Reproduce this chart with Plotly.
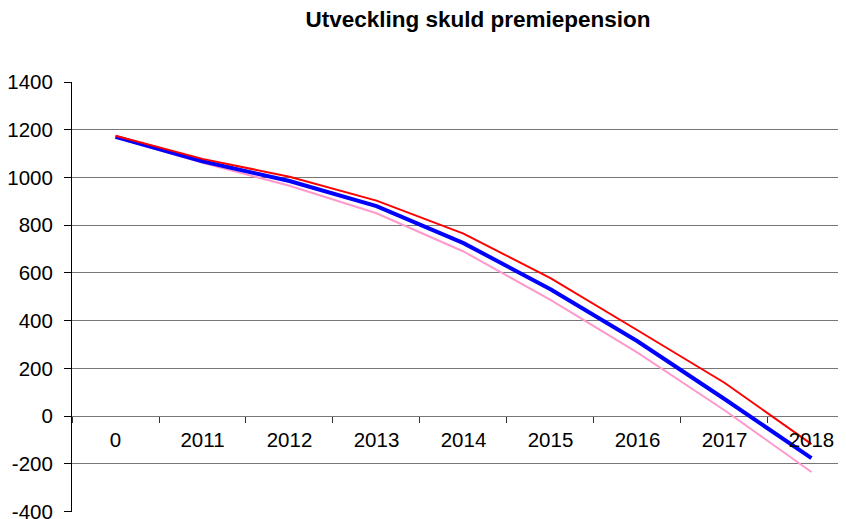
import plotly.graph_objects as go

categories = ["0", "2011", "2012", "2013", "2014", "2015", "2016", "2017", "2018"]
red_values = [1175, 1078, 1003, 903, 765, 578, 360, 140, -117]
blue_values = [1170, 1068, 985, 880, 725, 532, 314, 72, -176]
pink_values = [1168, 1062, 965, 850, 690, 487, 266, 25, -234]
y_ticks = [-400, -200, 0, 200, 400, 600, 800, 1000, 1200, 1400]
y_tick_labels = [str(v) for v in y_ticks]

FONT = "Liberation Sans, Arial, sans-serif"

# page body has an 8px default margin: compensate in figure size/margins
W, H = 838, 511
Y_MIN, Y_MAX = -401.5, 1400

fig = go.Figure()
fig.add_trace(go.Scatter(x=categories, y=pink_values, mode="lines",
                         line=dict(color="#FF99CC", width=2), showlegend=False))
fig.add_trace(go.Scatter(x=categories, y=blue_values, mode="lines",
                         line=dict(color="#0000FF", width=4), showlegend=False))
fig.add_trace(go.Scatter(x=categories, y=red_values, mode="lines",
                         line=dict(color="#FF0000", width=2), showlegend=False))

fig.update_layout(
    width=W, height=H,
    margin=dict(l=64, r=0, t=74, b=7),
    paper_bgcolor="white", plot_bgcolor="white",
    title=dict(text="<b>Utveckling skuld premiepension</b>",
               font=dict(family=FONT, size=22.5, color="black"),
               xref="container", x=470 / W, xanchor="center",
               yref="container", y=1 - 11 / H, yanchor="middle"),
    font=dict(family=FONT, color="black"),
)

fig.update_xaxes(
    type="category", categoryorder="array", categoryarray=categories,
    range=[-0.5, 8.397], automargin=False,
    anchor="free", position=(0 - Y_MIN) / (Y_MAX - Y_MIN),
    showgrid=False, zeroline=False, showline=False,
    ticks="outside", tickson="boundaries", ticklen=6, tickcolor="#333333", tickwidth=1,
    tickfont=dict(family=FONT, size=20.5, color="black"),
    ticklabelstandoff=9, ticklabeloverflow="allow",
)
fig.update_yaxes(
    range=[Y_MIN, Y_MAX], tickvals=y_ticks, ticktext=y_tick_labels, automargin=False,
    showgrid=True, gridcolor="#777777", gridwidth=1,
    zeroline=False,
    showline=True, linecolor="black", linewidth=1,
    ticks="outside", ticklen=7, tickcolor="black",
    tickfont=dict(family=FONT, size=20.5, color="black"),
    ticklabelstandoff=7, ticklabeloverflow="allow",
)

fig.write_html("out.html")
